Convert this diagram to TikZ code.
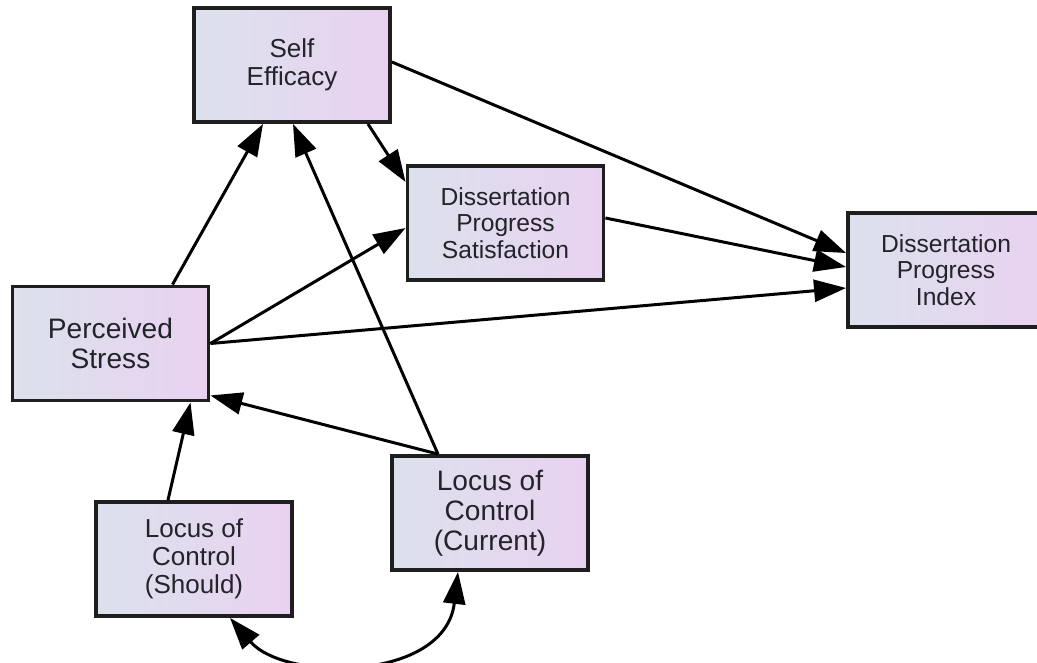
\documentclass[tikz,border=0pt]{standalone}
\usepackage{fontspec}
\setmainfont{Liberation Sans}
\usetikzlibrary{arrows.meta,calc}

\definecolor{boxleft}{RGB}{220,225,236}
\definecolor{boxright}{RGB}{233,210,241}
\definecolor{boxline}{RGB}{30,30,30}
\definecolor{boxtext}{RGB}{35,35,42}

\begin{document}
\begin{tikzpicture}[scale=0.2]
\tikzset{
  obs/.style={draw=boxline, line width=2.2pt, left color=boxleft, right color=boxright,
    minimum width=3.92cm, minimum height=2.28cm, align=center, text=boxtext,
    inner sep=0pt, font=\fontsize{14}{15}\selectfont},
  midtext/.style={font=\fontsize{14.8}{16}\selectfont},
  bigtext/.style={font=\fontsize{16}{17}\selectfont},
  reg/.style={line width=1.7pt, -{Triangle[length=0.64cm,width=0.44cm]}},
  cov/.style={line width=1.7pt, {Triangle[length=0.64cm,width=0.44cm]}-{Triangle[length=0.64cm,width=0.44cm]}}
}
\useasboundingbox (0,0) rectangle (103.7,-66.3);
% variables
\node [obs, midtext] (se) at (29.2,-6.5) {Self\\Efficacy};
\node [obs] (dps) at (50.55,-22.3) {Dissertation\\Progress\\Satisfaction};
\node [obs] (dpi) at (94.6,-27) {Dissertation\\Progress\\Index};
\node [obs, bigtext] (ps) at (11.05,-34.35) {Perceived\\Stress};
\node [obs, midtext] (ls) at (19.4,-55.9) {Locus of\\Control\\(Should)};
\node [obs, bigtext] (lc) at (49,-51.3) {Locus of\\Control\\(Current)};
% paths
\draw [reg] ($(ps.north)+(6.2,0)$) -- ($(se.south)+(-2.9,0)$);
\draw [reg] ($(lc.north)+(-5.2,0)$) -- ($(se.south)+(0.1,0)$);
\draw [reg] ($(se.south)+(7.6,0)$) -- ($(dps.west)+(0,4.1)$);
\draw [reg] ($(se.east)+(0,0.3)$) -- ($(dpi.west)+(0,1.7)$);
\draw [reg] ($(dps.east)+(0,0.5)$) -- ($(dpi.west)+(0,0.3)$);
\draw [reg] (ps.east) -- ($(dps.west)+(0,-0.5)$);
\draw [reg] (ps.east) -- ($(dpi.west)+(0,-1.8)$);
\draw [reg] ($(lc.north)+(-5.2,0)$) -- ($(ps.south east)+(0,0.7)$);
\draw [reg] ($(ls.north)+(-2.6,0)$) -- ($(ps.south)+(8,0)$);
\draw [cov] ($(ls.south)+(3.6,0)$) .. controls +(5.5,-6.4) and +(-1.3,-11) .. ($(lc.south)+(-3.2,0)$);
\end{tikzpicture}
\end{document}
